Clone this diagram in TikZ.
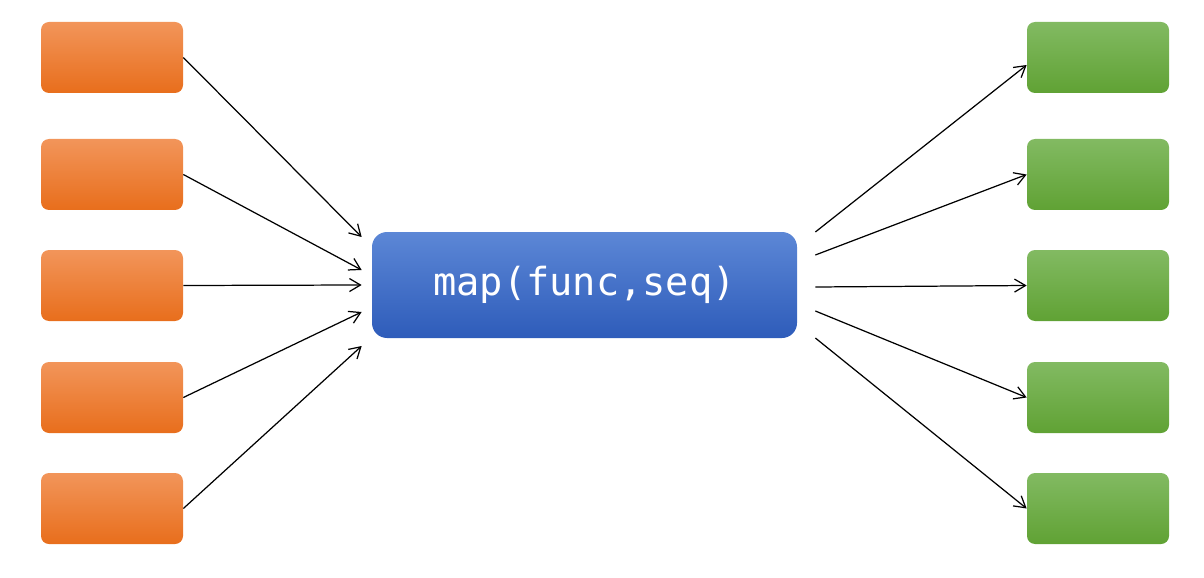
\documentclass[tikz,border=0pt]{standalone}
\usepackage{fontspec}
\setmonofont{DejaVu Sans Mono}
\usetikzlibrary{positioning,arrows.meta}
\definecolor{ortop}{HTML}{F2955A}
\definecolor{orbot}{HTML}{E86E1C}
\definecolor{grtop}{HTML}{82BA62}
\definecolor{grbot}{HTML}{60A234}
\definecolor{bltop}{HTML}{5C87D6}
\definecolor{blbot}{HTML}{2E5CBA}
\tikzset{
  inbox/.style={rounded corners=0.16cm, minimum width=2.84cm, minimum height=1.42cm, top color=ortop, bottom color=orbot, draw=none},
  outbox/.style={rounded corners=0.16cm, minimum width=2.84cm, minimum height=1.42cm, top color=grtop, bottom color=grbot, draw=none},
  mapbox/.style={rounded corners=0.3cm, minimum width=8.5cm, minimum height=2.12cm, top color=bltop, bottom color=blbot, draw=none, text=white, font=\ttfamily\fontsize{22}{26}\selectfont},
  flow/.style={-{Straight Barb[length=2.2mm,width=2.6mm]}, line width=0.7pt}
}
\begin{document}
\begin{tikzpicture}
\useasboundingbox (0,0) rectangle (24.08,11.54);

\node[mapbox] (map) at (11.69,5.84) {map(func,seq)};

% inputs and outputs
\foreach \i/\y in {1/10.39,2/8.05,3/5.83,4/3.59,5/1.37}{
  \node[inbox] (in\i) at (2.24,\y) {};
  \node[outbox] (out\i) at (21.96,\y) {};
}

% free ends next to the map box
\foreach \i/\dy in {1/0.96,2/0.30,3/0,4/-0.54,5/-1.22}{
  \coordinate (a\i) at ([xshift=-0.2cm,yshift=\dy cm]map.west);
}
\foreach \i/\dy in {1/1.06,2/0.60,3/-0.04,4/-0.52,5/-1.06}{
  \coordinate (b\i) at ([xshift=0.36cm,yshift=\dy cm]map.east);
}

\foreach \i in {1,...,5}{
  \draw[flow] (in\i.east) -- (a\i);
}
\draw[flow] (b1) -- ([yshift=-0.15cm]out1.west);
\draw[flow] (b2) -- (out2.west);
\draw[flow] (b3) -- (out3.west);
\draw[flow] (b4) -- (out4.west);
\draw[flow] (b5) -- (out5.west);
\end{tikzpicture}
\end{document}
